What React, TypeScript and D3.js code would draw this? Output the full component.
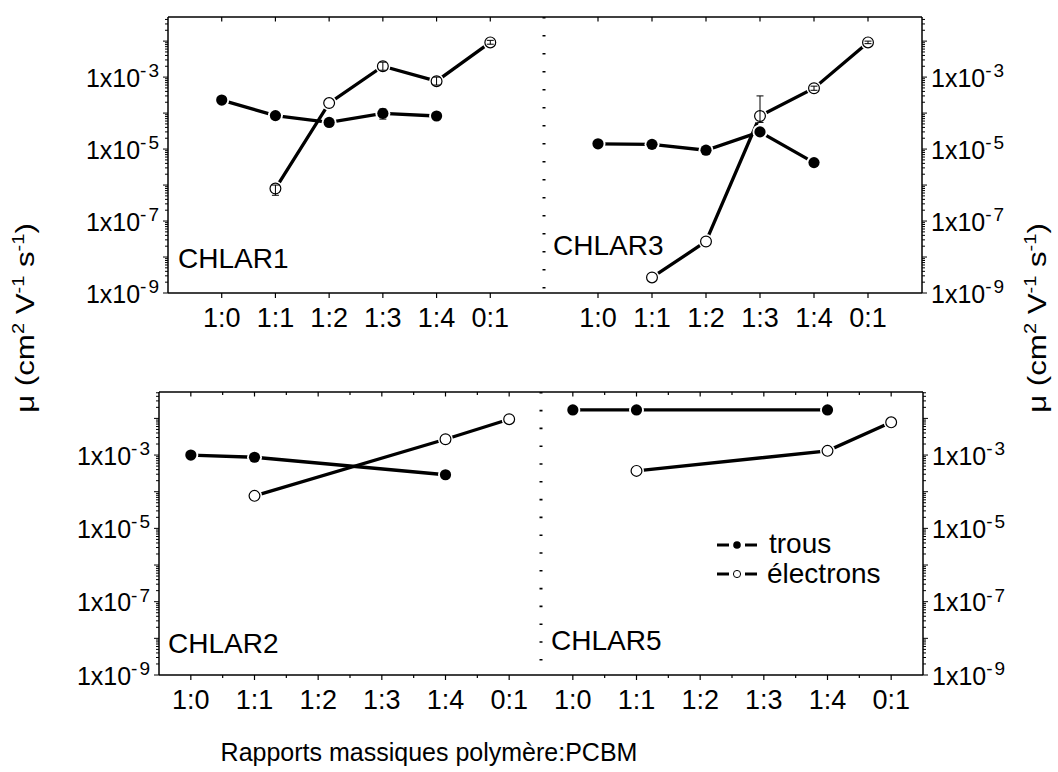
import * as d3 from "d3";

const categories = ["1:0", "1:1", "1:2", "1:3", "1:4", "0:1"];
const yTickExponents = [-3, -5, -7, -9];

type V = number | null;
type E = [number, number] | null;

// CHLAR1
const chlar1Trous: V[] = [2.3e-4, 8.5e-5, 5.5e-5, 9.8e-5, 8.3e-5, null];
const chlar1Electrons: V[] = [null, 8e-7, 1.9e-4, 2.0e-3, 7.7e-4, 9.2e-3];
const chlar1TrousErr: E[] = [null, null, null, [6.8e-5, 1.3e-4], null, null];
const chlar1ElecErr: E[] = [null, [5.2e-7, 1.0e-6], null, [1.55e-3, 2.6e-3], [6e-4, 1e-3], [8.2e-3, 1.05e-2]];

// CHLAR3
const chlar3Trous: V[] = [1.4e-5, 1.35e-5, 9.3e-6, 3.0e-5, 4.2e-6, null];
const chlar3Electrons: V[] = [null, 2.7e-9, 2.7e-8, 8.3e-5, 4.9e-4, 9.2e-3];
const chlar3TrousErr: E[] = [null, null, null, null, null, null];
const chlar3ElecErr: E[] = [null, null, null, [5.5e-5, 3.0e-4], [4.3e-4, 5.6e-4], [8.5e-3, 1.0e-2]];

// CHLAR2
const chlar2Trous: V[] = [1.0e-3, 8.7e-4, null, null, 2.9e-4, null];
const chlar2Electrons: V[] = [null, 7.7e-5, null, null, 2.7e-3, 9.5e-3];

// CHLAR5
const chlar5Trous: V[] = [1.7e-2, 1.7e-2, null, null, 1.7e-2, null];
const chlar5Electrons: V[] = [null, 3.7e-4, null, null, 1.3e-3, 7.8e-3];

const noErr: E[] = [null, null, null, null, null, null];

const FONT = "'Liberation Sans', Arial, Helvetica, sans-serif";

type PanelProps = {
  left: number;
  right: number;
  top: number;
  bottom: number;
  pad: number;
  yMax: number;
  side: "left" | "right";
  trous: V[];
  electrons: V[];
  trousErr: E[];
  elecErr: E[];
  name: string;
  nameX: number;
  nameY: number;
  minorX: boolean;
};

function Panel(p: PanelProps) {
  const x = d3.scalePoint<string>().domain(categories).range([p.left, p.right]).padding(p.pad);
  const y = d3.scaleLog().domain([1e-9, p.yMax]).range([p.bottom, p.top]);
  const axisX = p.side === "left" ? p.left : p.right;
  const dir = p.side === "left" ? -1 : 1;

  const isMajor = (t: number) => Math.abs(Math.log10(t) - Math.round(Math.log10(t))) < 1e-6;
  const yTicks = y.ticks().filter((t) => t >= 1e-9 && t <= p.yMax);

  const pts = (vals: V[]) =>
    categories
      .map((c, i) => (vals[i] == null ? null : ([x(c)!, y(vals[i] as number)] as [number, number])))
      .filter((d): d is [number, number] => d !== null);

  const line = d3.line<[number, number]>().x((d) => d[0]).y((d) => d[1]);
  const trousPts = pts(p.trous);
  const elecPts = pts(p.electrons);

  const step = x.step();
  const minorXs = p.minorX ? categories.slice(0, -1).map((c) => x(c)! + step / 2) : [];

  const errBars = (errs: E[]) =>
    errs.map((e, i) => {
      if (!e) return null;
      const cx = x(categories[i])!;
      const y1 = y(e[0]);
      const y2 = y(e[1]);
      return (
        <g key={i} stroke="#000" strokeWidth={1}>
          <line x1={cx} x2={cx} y1={y1} y2={y2} />
          <line x1={cx - 3.5} x2={cx + 3.5} y1={y1} y2={y1} />
          <line x1={cx - 3.5} x2={cx + 3.5} y1={y2} y2={y2} />
        </g>
      );
    });

  return (
    <g>
      {/* frame */}
      <g stroke="#000" strokeWidth={1.5}>
        <line x1={p.left} x2={p.right} y1={p.top} y2={p.top} />
        <line x1={p.left} x2={p.right} y1={p.bottom} y2={p.bottom} />
        <line x1={axisX} x2={axisX} y1={p.top} y2={p.bottom} />
      </g>

      {/* x ticks */}
      <g stroke="#000" strokeWidth={1.2}>
        {categories.map((c) => (
          <g key={c}>
            <line x1={x(c)} x2={x(c)} y1={p.top} y2={p.top + 4.5} />
            <line x1={x(c)} x2={x(c)} y1={p.bottom} y2={p.bottom + 5} />
          </g>
        ))}
        {minorXs.map((mx, i) => (
          <g key={i}>
            <line x1={mx} x2={mx} y1={p.top} y2={p.top + 3} />
            <line x1={mx} x2={mx} y1={p.bottom} y2={p.bottom + 3} />
          </g>
        ))}
      </g>
      {categories.map((c) => (
        <text key={c} x={x(c)} y={p.bottom + 34} textAnchor="middle" fontSize={27}>
          {c}
        </text>
      ))}

      {/* y ticks */}
      <g stroke="#000" strokeWidth={1}>
        {yTicks.map((t, i) => (
          <line
            key={i}
            x1={axisX}
            x2={axisX + dir * (isMajor(t) ? 5 : 3)}
            y1={y(t)}
            y2={y(t)}
          />
        ))}
      </g>
      {yTickExponents.map((ex) => (
        <text
          key={ex}
          x={axisX + dir * 9}
          y={y(Math.pow(10, ex)) + 9.5}
          textAnchor={p.side === "left" ? "end" : "start"}
          fontSize={25}
        >
          1x10
          <tspan dy={-9.5} fontSize={19}>
            -
          </tspan>
          <tspan dx={2} fontSize={19}>
            {String(-ex)}
          </tspan>
        </text>
      ))}

      <text x={p.nameX} y={p.nameY} fontSize={28}>
        {p.name}
      </text>

      {/* series */}
      <path d={line(trousPts) ?? ""} fill="none" stroke="#000" strokeWidth={3.3} />
      <path d={line(elecPts) ?? ""} fill="none" stroke="#000" strokeWidth={3.3} />
      {trousPts.map((d, i) => (
        <g key={"t" + i}>
          <circle cx={d[0]} cy={d[1]} r={7.5} fill="#fff" />
          <circle cx={d[0]} cy={d[1]} r={5.6} fill="#000" />
        </g>
      ))}
      {elecPts.map((d, i) => (
        <g key={"e" + i}>
          <circle cx={d[0]} cy={d[1]} r={7.5} fill="#fff" />
          <circle cx={d[0]} cy={d[1]} r={5.4} fill="#fff" stroke="#000" strokeWidth={1.2} />
        </g>
      ))}
      {errBars(p.trousErr)}
      {errBars(p.elecErr)}
    </g>
  );
}

function MuLabel({ x, y }: { x: number; y: number }) {
  return (
    <text
      transform={`translate(${x},${y}) rotate(-90) scale(1.25,1)`}
      textAnchor="middle"
      fontSize={25}
    >
      μ (cm
      <tspan dy={-10} fontSize={16}>2</tspan>
      <tspan dy={10}> V</tspan>
      <tspan dy={-10} fontSize={16}>-1</tspan>
      <tspan dy={10}> s</tspan>
      <tspan dy={-10} fontSize={16}>-1</tspan>
      <tspan dy={10}>)</tspan>
    </text>
  );
}

export default function App() {
  const topY0 = 17;
  const topY1 = 293;
  const botY0 = 392;
  const botY1 = 675;
  const topMax = Math.pow(10, -1.33);
  const botMax = Math.pow(10, -1.28);

  return (
    <svg
      width={1058}
      height={772}
      style={{ position: "absolute", left: 0, top: 0, background: "#fff" }}
      fontFamily={FONT}
      fill="#000"
    >
      <rect width={1058} height={772} fill="#fff" />

      <Panel left={168} right={544} top={topY0} bottom={topY1} pad={1} yMax={topMax} side="left"
        trous={chlar1Trous} electrons={chlar1Electrons} trousErr={chlar1TrousErr} elecErr={chlar1ElecErr}
        name="CHLAR1" nameX={178} nameY={268} minorX={false} />
      <Panel left={544} right={922} top={topY0} bottom={topY1} pad={1} yMax={topMax} side="right"
        trous={chlar3Trous} electrons={chlar3Electrons} trousErr={chlar3TrousErr} elecErr={chlar3ElecErr}
        name="CHLAR3" nameX={553} nameY={255} minorX={false} />
      <Panel left={159} right={541} top={botY0} bottom={botY1} pad={0.5} yMax={botMax} side="left"
        trous={chlar2Trous} electrons={chlar2Electrons} trousErr={noErr} elecErr={noErr}
        name="CHLAR2" nameX={168} nameY={653} minorX={true} />
      <Panel left={541} right={923} top={botY0} bottom={botY1} pad={0.5} yMax={botMax} side="right"
        trous={chlar5Trous} electrons={chlar5Electrons} trousErr={noErr} elecErr={noErr}
        name="CHLAR5" nameX={551} nameY={650} minorX={true} />

      {/* dotted dividers */}
      <line x1={544} x2={544} y1={topY0} y2={topY1} stroke="#000" strokeWidth={3} strokeDasharray="1.6,16.4" />
      <line x1={541} x2={541} y1={botY0} y2={botY1} stroke="#000" strokeWidth={3} strokeDasharray="1.6,16.2" />

      {/* legend */}
      <g stroke="#000" strokeWidth={3}>
        <line x1={717} x2={729} y1={545} y2={545} />
        <line x1={745} x2={757} y1={545} y2={545} />
        <line x1={717} x2={729} y1={574} y2={574} />
        <line x1={745} x2={757} y1={574} y2={574} />
      </g>
      <circle cx={737} cy={545} r={3.8} fill="#000" />
      <circle cx={737} cy={574} r={3.6} fill="#fff" stroke="#000" strokeWidth={1} />
      <text x={769} y={553} fontSize={28}>trous</text>
      <text x={767} y={583} fontSize={28}>électrons</text>

      <MuLabel x={34} y={318} />
      <MuLabel x={1046} y={318} />

      <text x={429} y={761} textAnchor="middle" fontSize={25}>
        Rapports massiques polymère:PCBM
      </text>
    </svg>
  );
}
